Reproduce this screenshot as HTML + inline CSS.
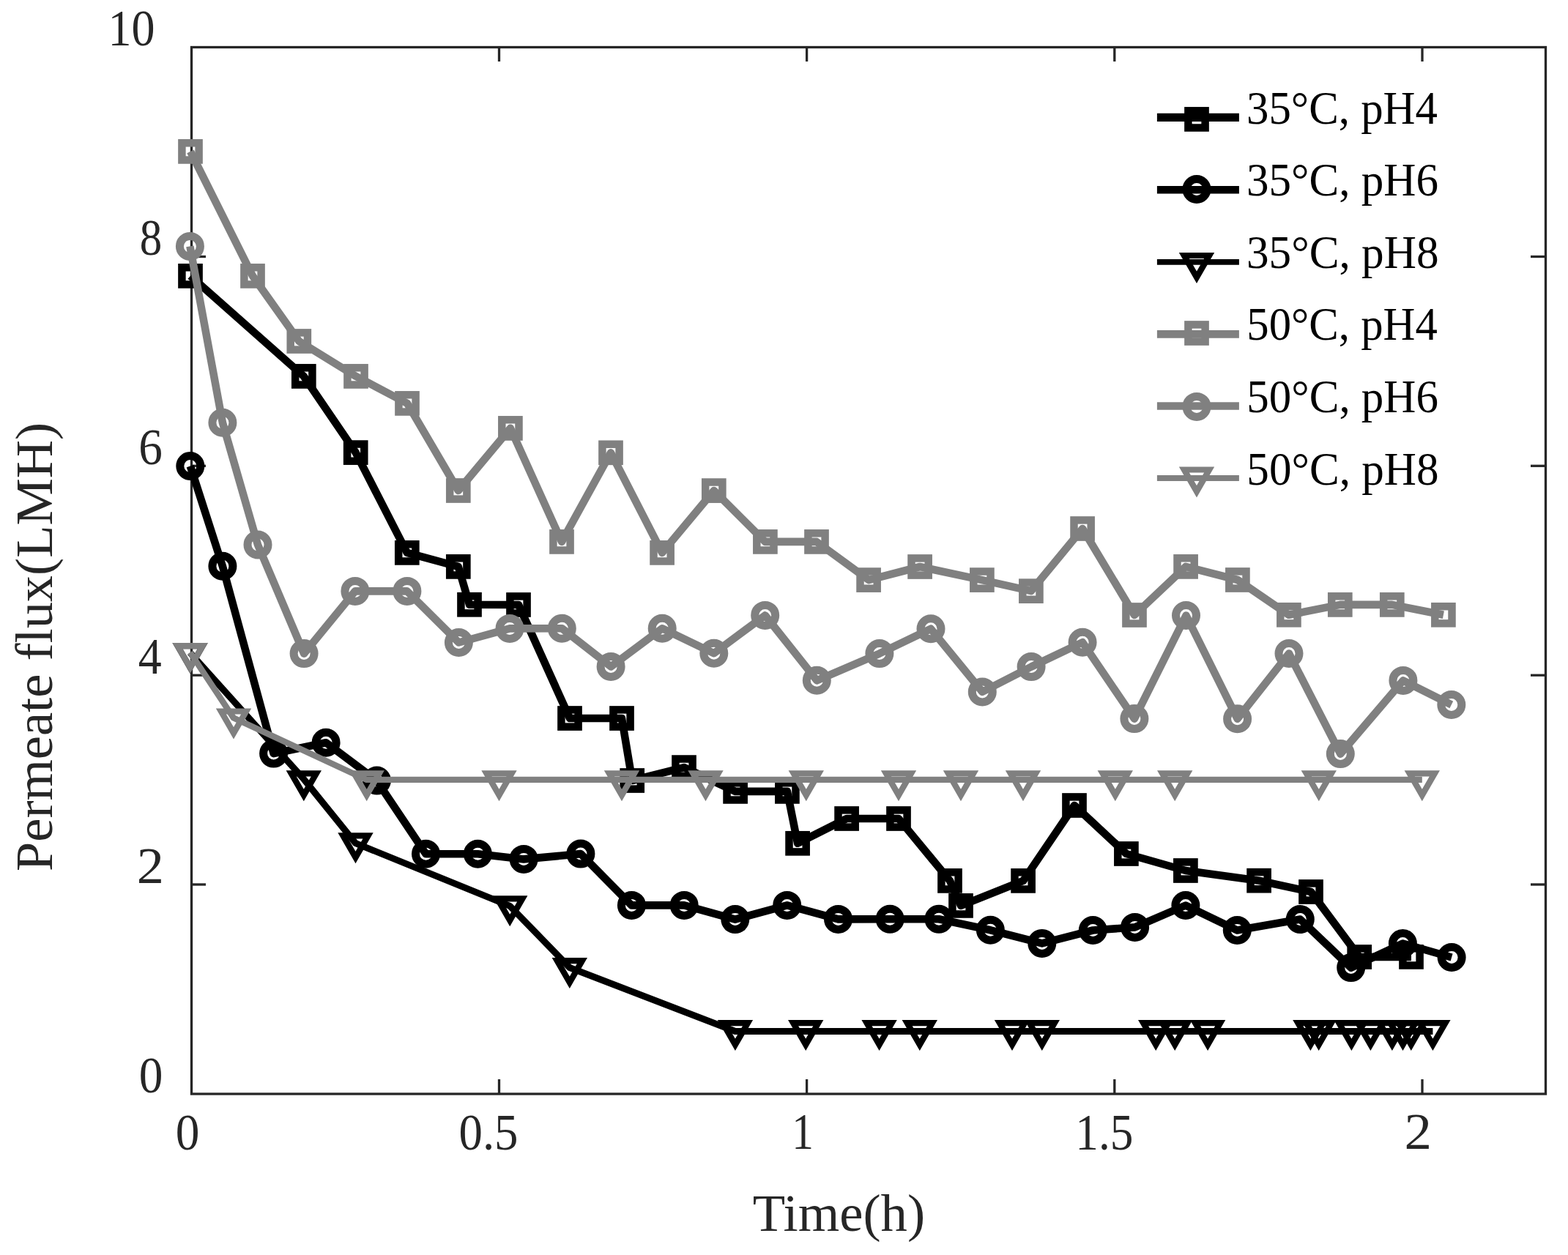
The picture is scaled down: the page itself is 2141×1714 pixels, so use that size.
<!DOCTYPE html>
<html lang="en">
<head>
<meta charset="utf-8">
<title>Permeate flux vs Time</title>
<style>
html,body{margin:0;padding:0;background:#fff;}
body{width:2141px;height:1714px;overflow:hidden;}
svg{display:block;}
text{font-family:'Liberation Serif', 'Times New Roman', serif;}
</style>
</head>
<body>
<svg width="2141" height="1714" viewBox="0 0 2141 1714">
<rect x="0" y="0" width="2141" height="1714" fill="#fff"/>
<g id="axes">
<rect x="261.5" y="64.5" width="1849" height="1429.5" fill="none" stroke="#262626" stroke-width="3.3"/>
<line x1="681.5" y1="64.5" x2="681.5" y2="84" stroke="#262626" stroke-width="3.3"/>
<line x1="681.5" y1="1494" x2="681.5" y2="1474" stroke="#262626" stroke-width="3.3"/>
<line x1="1101.6" y1="64.5" x2="1101.6" y2="84" stroke="#262626" stroke-width="3.3"/>
<line x1="1101.6" y1="1494" x2="1101.6" y2="1474" stroke="#262626" stroke-width="3.3"/>
<line x1="1521.8" y1="64.5" x2="1521.8" y2="84" stroke="#262626" stroke-width="3.3"/>
<line x1="1521.8" y1="1494" x2="1521.8" y2="1474" stroke="#262626" stroke-width="3.3"/>
<line x1="1942" y1="64.5" x2="1942" y2="84" stroke="#262626" stroke-width="3.3"/>
<line x1="1942" y1="1494" x2="1942" y2="1474" stroke="#262626" stroke-width="3.3"/>
<line x1="261.5" y1="350.5" x2="281" y2="350.5" stroke="#262626" stroke-width="3.3"/>
<line x1="2110.5" y1="350.5" x2="2090" y2="350.5" stroke="#262626" stroke-width="3.3"/>
<line x1="261.5" y1="636.3" x2="281" y2="636.3" stroke="#262626" stroke-width="3.3"/>
<line x1="2110.5" y1="636.3" x2="2090" y2="636.3" stroke="#262626" stroke-width="3.3"/>
<line x1="261.5" y1="922.2" x2="281" y2="922.2" stroke="#262626" stroke-width="3.3"/>
<line x1="2110.5" y1="922.2" x2="2090" y2="922.2" stroke="#262626" stroke-width="3.3"/>
<line x1="261.5" y1="1208" x2="281" y2="1208" stroke="#262626" stroke-width="3.3"/>
<line x1="2110.5" y1="1208" x2="2090" y2="1208" stroke="#262626" stroke-width="3.3"/>
</g>
<g id="data">
<polyline points="260,376.9 414.8,513.9 485.7,618.1 555.8,754.9 625.8,773.9 641,825.8 708,826 778,981 849,981 863.2,1066 934,1048.1 1004.1,1080.9 1074.9,1080.9 1089.1,1151.8 1156.1,1118 1227,1118 1297,1202.9 1312,1236.9 1397.1,1202.9 1467,1100 1537.9,1166 1618.9,1189 1719.1,1202.7 1790,1218 1856.2,1307 1927,1306.9" fill="none" stroke="#000000" stroke-width="10.6" stroke-linejoin="round" stroke-linecap="butt"/>
<rect x="248.4" y="365.3" width="23.2" height="23.2" fill="none" stroke="#000000" stroke-width="10.5"/>
<rect x="403.2" y="502.3" width="23.2" height="23.2" fill="none" stroke="#000000" stroke-width="10.5"/>
<rect x="474.1" y="606.5" width="23.2" height="23.2" fill="none" stroke="#000000" stroke-width="10.5"/>
<rect x="544.2" y="743.3" width="23.2" height="23.2" fill="none" stroke="#000000" stroke-width="10.5"/>
<rect x="614.2" y="762.3" width="23.2" height="23.2" fill="none" stroke="#000000" stroke-width="10.5"/>
<rect x="629.4" y="814.2" width="23.2" height="23.2" fill="none" stroke="#000000" stroke-width="10.5"/>
<rect x="696.4" y="814.4" width="23.2" height="23.2" fill="none" stroke="#000000" stroke-width="10.5"/>
<rect x="766.4" y="969.4" width="23.2" height="23.2" fill="none" stroke="#000000" stroke-width="10.5"/>
<rect x="837.4" y="969.4" width="23.2" height="23.2" fill="none" stroke="#000000" stroke-width="10.5"/>
<rect x="851.6" y="1054.4" width="23.2" height="23.2" fill="none" stroke="#000000" stroke-width="10.5"/>
<rect x="922.4" y="1036.5" width="23.2" height="23.2" fill="none" stroke="#000000" stroke-width="10.5"/>
<rect x="992.5" y="1069.3" width="23.2" height="23.2" fill="none" stroke="#000000" stroke-width="10.5"/>
<rect x="1063.3" y="1069.3" width="23.2" height="23.2" fill="none" stroke="#000000" stroke-width="10.5"/>
<rect x="1077.5" y="1140.2" width="23.2" height="23.2" fill="none" stroke="#000000" stroke-width="10.5"/>
<rect x="1144.5" y="1106.4" width="23.2" height="23.2" fill="none" stroke="#000000" stroke-width="10.5"/>
<rect x="1215.4" y="1106.4" width="23.2" height="23.2" fill="none" stroke="#000000" stroke-width="10.5"/>
<rect x="1285.4" y="1191.3" width="23.2" height="23.2" fill="none" stroke="#000000" stroke-width="10.5"/>
<rect x="1300.4" y="1225.3" width="23.2" height="23.2" fill="none" stroke="#000000" stroke-width="10.5"/>
<rect x="1385.5" y="1191.3" width="23.2" height="23.2" fill="none" stroke="#000000" stroke-width="10.5"/>
<rect x="1455.4" y="1088.4" width="23.2" height="23.2" fill="none" stroke="#000000" stroke-width="10.5"/>
<rect x="1526.3" y="1154.4" width="23.2" height="23.2" fill="none" stroke="#000000" stroke-width="10.5"/>
<rect x="1607.3" y="1177.4" width="23.2" height="23.2" fill="none" stroke="#000000" stroke-width="10.5"/>
<rect x="1707.5" y="1191.1" width="23.2" height="23.2" fill="none" stroke="#000000" stroke-width="10.5"/>
<rect x="1778.4" y="1206.4" width="23.2" height="23.2" fill="none" stroke="#000000" stroke-width="10.5"/>
<rect x="1844.6" y="1295.4" width="23.2" height="23.2" fill="none" stroke="#000000" stroke-width="10.5"/>
<rect x="1915.4" y="1295.3" width="23.2" height="23.2" fill="none" stroke="#000000" stroke-width="10.5"/>
<polyline points="259.8,636.5 303.9,773.3 373.6,1029.1 445.1,1014.2 514.4,1066.1 581.5,1166.2 652.4,1166.2 715.1,1173.4 792.9,1166.1 862.4,1236.4 934.2,1236.4 1003.8,1255.6 1074.7,1236.4 1144.5,1255.4 1215.2,1255.3 1282,1255.3 1352.4,1270.3 1422.8,1288.4 1492.3,1270.5 1549.6,1266.4 1618.9,1236.5 1689.3,1270.5 1775.3,1255.5 1844.7,1321.6 1915.4,1288.5 1982.1,1307.5" fill="none" stroke="#000000" stroke-width="10.6" stroke-linejoin="round" stroke-linecap="butt"/>
<circle cx="259.8" cy="636.5" r="14" fill="none" stroke="#000000" stroke-width="11"/>
<circle cx="303.9" cy="773.3" r="14" fill="none" stroke="#000000" stroke-width="11"/>
<circle cx="373.6" cy="1029.1" r="14" fill="none" stroke="#000000" stroke-width="11"/>
<circle cx="445.1" cy="1014.2" r="14" fill="none" stroke="#000000" stroke-width="11"/>
<circle cx="514.4" cy="1066.1" r="14" fill="none" stroke="#000000" stroke-width="11"/>
<circle cx="581.5" cy="1166.2" r="14" fill="none" stroke="#000000" stroke-width="11"/>
<circle cx="652.4" cy="1166.2" r="14" fill="none" stroke="#000000" stroke-width="11"/>
<circle cx="715.1" cy="1173.4" r="14" fill="none" stroke="#000000" stroke-width="11"/>
<circle cx="792.9" cy="1166.1" r="14" fill="none" stroke="#000000" stroke-width="11"/>
<circle cx="862.4" cy="1236.4" r="14" fill="none" stroke="#000000" stroke-width="11"/>
<circle cx="934.2" cy="1236.4" r="14" fill="none" stroke="#000000" stroke-width="11"/>
<circle cx="1003.8" cy="1255.6" r="14" fill="none" stroke="#000000" stroke-width="11"/>
<circle cx="1074.7" cy="1236.4" r="14" fill="none" stroke="#000000" stroke-width="11"/>
<circle cx="1144.5" cy="1255.4" r="14" fill="none" stroke="#000000" stroke-width="11"/>
<circle cx="1215.2" cy="1255.3" r="14" fill="none" stroke="#000000" stroke-width="11"/>
<circle cx="1282" cy="1255.3" r="14" fill="none" stroke="#000000" stroke-width="11"/>
<circle cx="1352.4" cy="1270.3" r="14" fill="none" stroke="#000000" stroke-width="11"/>
<circle cx="1422.8" cy="1288.4" r="14" fill="none" stroke="#000000" stroke-width="11"/>
<circle cx="1492.3" cy="1270.5" r="14" fill="none" stroke="#000000" stroke-width="11"/>
<circle cx="1549.6" cy="1266.4" r="14" fill="none" stroke="#000000" stroke-width="11"/>
<circle cx="1618.9" cy="1236.5" r="14" fill="none" stroke="#000000" stroke-width="11"/>
<circle cx="1689.3" cy="1270.5" r="14" fill="none" stroke="#000000" stroke-width="11"/>
<circle cx="1775.3" cy="1255.5" r="14" fill="none" stroke="#000000" stroke-width="11"/>
<circle cx="1844.7" cy="1321.6" r="14" fill="none" stroke="#000000" stroke-width="11"/>
<circle cx="1915.4" cy="1288.5" r="14" fill="none" stroke="#000000" stroke-width="11"/>
<circle cx="1982.1" cy="1307.5" r="14" fill="none" stroke="#000000" stroke-width="11"/>
<polyline points="259.6,891.5 414.8,1064.1 485.5,1151.6 696.2,1237.3 777.8,1321.5 1003.9,1408.5 1100.2,1408.5 1200.6,1408.5 1255.8,1408.5 1382,1408.5 1422.8,1408.5 1578.2,1408.5 1604.2,1408.5 1649.1,1408.5 1789.4,1408.5 1800.7,1408.5 1845.4,1408.5 1871.4,1408.5 1900.9,1408.5 1915.5,1408.5 1926.8,1408.5 1956.4,1408.5" fill="none" stroke="#000000" stroke-width="9" stroke-linejoin="round" stroke-linecap="butt"/>
<polygon points="242.5,882.2 276.7,882.2 259.6,911.9" fill="none" stroke="#000000" stroke-width="8.2" stroke-linejoin="miter"/>
<polygon points="397.7,1056.3 431.9,1056.3 414.8,1086" fill="none" stroke="#000000" stroke-width="8.2" stroke-linejoin="miter"/>
<polygon points="468.4,1141.3 502.6,1141.3 485.5,1171" fill="none" stroke="#000000" stroke-width="8.2" stroke-linejoin="miter"/>
<polygon points="679.1,1227.4 713.3,1227.4 696.2,1257.1" fill="none" stroke="#000000" stroke-width="8.2" stroke-linejoin="miter"/>
<polygon points="760.7,1312.1 794.9,1312.1 777.8,1341.8" fill="none" stroke="#000000" stroke-width="8.2" stroke-linejoin="miter"/>
<polygon points="986.8,1397.2 1021,1397.2 1003.9,1426.9" fill="none" stroke="#000000" stroke-width="8.2" stroke-linejoin="miter"/>
<polygon points="1083.1,1397.2 1117.3,1397.2 1100.2,1426.9" fill="none" stroke="#000000" stroke-width="8.2" stroke-linejoin="miter"/>
<polygon points="1183.5,1397.2 1217.7,1397.2 1200.6,1426.9" fill="none" stroke="#000000" stroke-width="8.2" stroke-linejoin="miter"/>
<polygon points="1238.7,1397.2 1272.9,1397.2 1255.8,1426.9" fill="none" stroke="#000000" stroke-width="8.2" stroke-linejoin="miter"/>
<polygon points="1364.9,1397.2 1399.1,1397.2 1382,1426.9" fill="none" stroke="#000000" stroke-width="8.2" stroke-linejoin="miter"/>
<polygon points="1405.7,1397.2 1439.9,1397.2 1422.8,1426.9" fill="none" stroke="#000000" stroke-width="8.2" stroke-linejoin="miter"/>
<polygon points="1561.1,1397.2 1595.3,1397.2 1578.2,1426.9" fill="none" stroke="#000000" stroke-width="8.2" stroke-linejoin="miter"/>
<polygon points="1587.1,1397.2 1621.3,1397.2 1604.2,1426.9" fill="none" stroke="#000000" stroke-width="8.2" stroke-linejoin="miter"/>
<polygon points="1632,1397.2 1666.2,1397.2 1649.1,1426.9" fill="none" stroke="#000000" stroke-width="8.2" stroke-linejoin="miter"/>
<polygon points="1772.3,1397.2 1806.5,1397.2 1789.4,1426.9" fill="none" stroke="#000000" stroke-width="8.2" stroke-linejoin="miter"/>
<polygon points="1783.6,1397.2 1817.8,1397.2 1800.7,1426.9" fill="none" stroke="#000000" stroke-width="8.2" stroke-linejoin="miter"/>
<polygon points="1828.3,1397.2 1862.5,1397.2 1845.4,1426.9" fill="none" stroke="#000000" stroke-width="8.2" stroke-linejoin="miter"/>
<polygon points="1854.3,1397.2 1888.5,1397.2 1871.4,1426.9" fill="none" stroke="#000000" stroke-width="8.2" stroke-linejoin="miter"/>
<polygon points="1883.8,1397.2 1918,1397.2 1900.9,1426.9" fill="none" stroke="#000000" stroke-width="8.2" stroke-linejoin="miter"/>
<polygon points="1898.4,1397.2 1932.6,1397.2 1915.5,1426.9" fill="none" stroke="#000000" stroke-width="8.2" stroke-linejoin="miter"/>
<polygon points="1909.7,1397.2 1943.9,1397.2 1926.8,1426.9" fill="none" stroke="#000000" stroke-width="8.2" stroke-linejoin="miter"/>
<polygon points="1939.3,1397.2 1973.5,1397.2 1956.4,1426.9" fill="none" stroke="#000000" stroke-width="8.2" stroke-linejoin="miter"/>
<polyline points="260,206.9 345,376.9 408.3,466 486,513.9 556,550.9 625.8,670 696.9,584.9 767,739.9 834,618.3 904.1,754.9 974.8,670.1 1044.9,739.9 1115,739.9 1186.1,792.1 1256.1,774 1340.9,792.1 1407.9,807.2 1478.1,722 1549,840 1619.1,773.9 1689.9,792 1759.9,839.8 1829.8,825.9 1900.8,825.9 1970.9,839.8" fill="none" stroke="#808080" stroke-width="10.6" stroke-linejoin="round" stroke-linecap="butt"/>
<rect x="248.4" y="195.3" width="23.2" height="23.2" fill="none" stroke="#808080" stroke-width="10.5"/>
<rect x="333.4" y="365.3" width="23.2" height="23.2" fill="none" stroke="#808080" stroke-width="10.5"/>
<rect x="396.7" y="454.4" width="23.2" height="23.2" fill="none" stroke="#808080" stroke-width="10.5"/>
<rect x="474.4" y="502.3" width="23.2" height="23.2" fill="none" stroke="#808080" stroke-width="10.5"/>
<rect x="544.4" y="539.3" width="23.2" height="23.2" fill="none" stroke="#808080" stroke-width="10.5"/>
<rect x="614.2" y="658.4" width="23.2" height="23.2" fill="none" stroke="#808080" stroke-width="10.5"/>
<rect x="685.3" y="573.3" width="23.2" height="23.2" fill="none" stroke="#808080" stroke-width="10.5"/>
<rect x="755.4" y="728.3" width="23.2" height="23.2" fill="none" stroke="#808080" stroke-width="10.5"/>
<rect x="822.4" y="606.7" width="23.2" height="23.2" fill="none" stroke="#808080" stroke-width="10.5"/>
<rect x="892.5" y="743.3" width="23.2" height="23.2" fill="none" stroke="#808080" stroke-width="10.5"/>
<rect x="963.2" y="658.5" width="23.2" height="23.2" fill="none" stroke="#808080" stroke-width="10.5"/>
<rect x="1033.3" y="728.3" width="23.2" height="23.2" fill="none" stroke="#808080" stroke-width="10.5"/>
<rect x="1103.4" y="728.3" width="23.2" height="23.2" fill="none" stroke="#808080" stroke-width="10.5"/>
<rect x="1174.5" y="780.5" width="23.2" height="23.2" fill="none" stroke="#808080" stroke-width="10.5"/>
<rect x="1244.5" y="762.4" width="23.2" height="23.2" fill="none" stroke="#808080" stroke-width="10.5"/>
<rect x="1329.3" y="780.5" width="23.2" height="23.2" fill="none" stroke="#808080" stroke-width="10.5"/>
<rect x="1396.3" y="795.6" width="23.2" height="23.2" fill="none" stroke="#808080" stroke-width="10.5"/>
<rect x="1466.5" y="710.4" width="23.2" height="23.2" fill="none" stroke="#808080" stroke-width="10.5"/>
<rect x="1537.4" y="828.4" width="23.2" height="23.2" fill="none" stroke="#808080" stroke-width="10.5"/>
<rect x="1607.5" y="762.3" width="23.2" height="23.2" fill="none" stroke="#808080" stroke-width="10.5"/>
<rect x="1678.3" y="780.4" width="23.2" height="23.2" fill="none" stroke="#808080" stroke-width="10.5"/>
<rect x="1748.3" y="828.2" width="23.2" height="23.2" fill="none" stroke="#808080" stroke-width="10.5"/>
<rect x="1818.2" y="814.3" width="23.2" height="23.2" fill="none" stroke="#808080" stroke-width="10.5"/>
<rect x="1889.2" y="814.3" width="23.2" height="23.2" fill="none" stroke="#808080" stroke-width="10.5"/>
<rect x="1959.3" y="828.2" width="23.2" height="23.2" fill="none" stroke="#808080" stroke-width="10.5"/>
<polyline points="259.4,336.4 303.9,577.2 352,744 415.1,892.6 484.9,807.4 555.9,807.4 626.4,877.5 696,858.4 767.3,858.3 834.1,910.4 904.2,858.3 974.8,892.2 1044.7,840.4 1115.3,929.3 1200.9,892.6 1271,858.8 1341.3,944.9 1408.1,910.6 1478.1,877.3 1548.9,981.6 1619.5,840.5 1689.6,981.7 1760,892.5 1830.3,1029.6 1915.9,929.4 1981.8,962.5" fill="none" stroke="#808080" stroke-width="10.6" stroke-linejoin="round" stroke-linecap="butt"/>
<circle cx="259.4" cy="336.4" r="14" fill="none" stroke="#808080" stroke-width="11"/>
<circle cx="303.9" cy="577.2" r="14" fill="none" stroke="#808080" stroke-width="11"/>
<circle cx="352" cy="744" r="14" fill="none" stroke="#808080" stroke-width="11"/>
<circle cx="415.1" cy="892.6" r="14" fill="none" stroke="#808080" stroke-width="11"/>
<circle cx="484.9" cy="807.4" r="14" fill="none" stroke="#808080" stroke-width="11"/>
<circle cx="555.9" cy="807.4" r="14" fill="none" stroke="#808080" stroke-width="11"/>
<circle cx="626.4" cy="877.5" r="14" fill="none" stroke="#808080" stroke-width="11"/>
<circle cx="696" cy="858.4" r="14" fill="none" stroke="#808080" stroke-width="11"/>
<circle cx="767.3" cy="858.3" r="14" fill="none" stroke="#808080" stroke-width="11"/>
<circle cx="834.1" cy="910.4" r="14" fill="none" stroke="#808080" stroke-width="11"/>
<circle cx="904.2" cy="858.3" r="14" fill="none" stroke="#808080" stroke-width="11"/>
<circle cx="974.8" cy="892.2" r="14" fill="none" stroke="#808080" stroke-width="11"/>
<circle cx="1044.7" cy="840.4" r="14" fill="none" stroke="#808080" stroke-width="11"/>
<circle cx="1115.3" cy="929.3" r="14" fill="none" stroke="#808080" stroke-width="11"/>
<circle cx="1200.9" cy="892.6" r="14" fill="none" stroke="#808080" stroke-width="11"/>
<circle cx="1271" cy="858.8" r="14" fill="none" stroke="#808080" stroke-width="11"/>
<circle cx="1341.3" cy="944.9" r="14" fill="none" stroke="#808080" stroke-width="11"/>
<circle cx="1408.1" cy="910.6" r="14" fill="none" stroke="#808080" stroke-width="11"/>
<circle cx="1478.1" cy="877.3" r="14" fill="none" stroke="#808080" stroke-width="11"/>
<circle cx="1548.9" cy="981.6" r="14" fill="none" stroke="#808080" stroke-width="11"/>
<circle cx="1619.5" cy="840.5" r="14" fill="none" stroke="#808080" stroke-width="11"/>
<circle cx="1689.6" cy="981.7" r="14" fill="none" stroke="#808080" stroke-width="11"/>
<circle cx="1760" cy="892.5" r="14" fill="none" stroke="#808080" stroke-width="11"/>
<circle cx="1830.3" cy="1029.6" r="14" fill="none" stroke="#808080" stroke-width="11"/>
<circle cx="1915.9" cy="929.4" r="14" fill="none" stroke="#808080" stroke-width="11"/>
<circle cx="1981.8" cy="962.5" r="14" fill="none" stroke="#808080" stroke-width="11"/>
<polyline points="259.6,891 319,980.6 500.7,1064.9 681.5,1064.9 849,1064.9 963.5,1064.9 1100.8,1064.9 1227,1064.9 1312,1064.9 1397,1064.9 1522.8,1064.9 1604.2,1064.9 1800.8,1064.9 1941.8,1064.9" fill="none" stroke="#808080" stroke-width="8.3" stroke-linejoin="round" stroke-linecap="butt"/>
<polygon points="242.5,882.2 276.7,882.2 259.6,911.9" fill="none" stroke="#808080" stroke-width="8.2" stroke-linejoin="miter"/>
<polygon points="301.9,971.5 336.1,971.5 319,1001.2" fill="none" stroke="#808080" stroke-width="8.2" stroke-linejoin="miter"/>
<polygon points="483.6,1056.3 517.8,1056.3 500.7,1086" fill="none" stroke="#808080" stroke-width="8.2" stroke-linejoin="miter"/>
<polygon points="664.4,1056.3 698.6,1056.3 681.5,1086" fill="none" stroke="#808080" stroke-width="8.2" stroke-linejoin="miter"/>
<polygon points="831.9,1056.3 866.1,1056.3 849,1086" fill="none" stroke="#808080" stroke-width="8.2" stroke-linejoin="miter"/>
<polygon points="946.4,1056.3 980.6,1056.3 963.5,1086" fill="none" stroke="#808080" stroke-width="8.2" stroke-linejoin="miter"/>
<polygon points="1083.7,1056.3 1117.9,1056.3 1100.8,1086" fill="none" stroke="#808080" stroke-width="8.2" stroke-linejoin="miter"/>
<polygon points="1209.9,1056.3 1244.1,1056.3 1227,1086" fill="none" stroke="#808080" stroke-width="8.2" stroke-linejoin="miter"/>
<polygon points="1294.9,1056.3 1329.1,1056.3 1312,1086" fill="none" stroke="#808080" stroke-width="8.2" stroke-linejoin="miter"/>
<polygon points="1379.9,1056.3 1414.1,1056.3 1397,1086" fill="none" stroke="#808080" stroke-width="8.2" stroke-linejoin="miter"/>
<polygon points="1505.7,1056.3 1539.9,1056.3 1522.8,1086" fill="none" stroke="#808080" stroke-width="8.2" stroke-linejoin="miter"/>
<polygon points="1587.1,1056.3 1621.3,1056.3 1604.2,1086" fill="none" stroke="#808080" stroke-width="8.2" stroke-linejoin="miter"/>
<polygon points="1783.7,1056.3 1817.9,1056.3 1800.8,1086" fill="none" stroke="#808080" stroke-width="8.2" stroke-linejoin="miter"/>
<polygon points="1924.7,1056.3 1958.9,1056.3 1941.8,1086" fill="none" stroke="#808080" stroke-width="8.2" stroke-linejoin="miter"/>
</g>
<g id="labels">
<text transform="translate(147.40,62.15) scale(0.9190,1)" font-size="69.70" fill="#262626">10</text>
<text transform="translate(190.71,348.20) scale(0.8734,1)" font-size="69.78" fill="#262626">8</text>
<text transform="translate(189.23,634.30) scale(0.9299,1)" font-size="70.19" fill="#262626">6</text>
<text transform="translate(188.87,919.80) scale(0.9165,1)" font-size="69.81" fill="#262626">4</text>
<text transform="translate(186.80,1205.85) scale(1.0747,1)" font-size="69.21" fill="#262626">2</text>
<text transform="translate(189.65,1492.30) scale(0.9374,1)" font-size="69.78" fill="#262626">0</text>
<text transform="translate(239.65,1570.15) scale(0.9374,1)" font-size="69.78" fill="#262626">0</text>
<text transform="translate(626.47,1569.86) scale(0.9378,1)" font-size="69.12" fill="#262626">0.5</text>
<text transform="translate(1081.30,1568.90) scale(0.8500,1)" font-size="69.85" fill="#262626">1</text>
<text transform="translate(1468.37,1569.86) scale(0.9084,1)" font-size="69.63" fill="#262626">1.5</text>
<text transform="translate(1917.62,1568.90) scale(1.0778,1)" font-size="69.58" fill="#262626">2</text>
<text transform="translate(1027.63,1680.58) scale(1.0146,1)" font-size="71.63" fill="#262626">Time(h)</text>
<text transform="translate(70.83,1189.97) rotate(-90) scale(1.0213,1)" font-size="70.90" fill="#262626">Permeate flux(LMH)</text>
</g>
<g id="legend">
<line x1="1579.9" y1="160.4" x2="1691.9" y2="160.4" stroke="#000000" stroke-width="11.1"/>
<rect x="1622.4" y="151.3" width="23.2" height="23.2" fill="none" stroke="#000000" stroke-width="10.5"/>
<text transform="translate(1702.01,168.61) scale(0.9656,1)" font-size="63.02" fill="#000">35°C, pH4</text>
<line x1="1579.9" y1="259.2" x2="1691.9" y2="259.2" stroke="#000000" stroke-width="10.6"/>
<circle cx="1634" cy="258.5" r="14" fill="none" stroke="#000000" stroke-width="11"/>
<text transform="translate(1702.00,267.21) scale(0.9692,1)" font-size="63.02" fill="#000">35°C, pH6</text>
<line x1="1579.9" y1="357.9" x2="1691.9" y2="357.9" stroke="#000000" stroke-width="7.6"/>
<polygon points="1616.9,349 1651.1,349 1634,378.7" fill="none" stroke="#000000" stroke-width="8.2" stroke-linejoin="miter"/>
<text transform="translate(1701.99,365.81) scale(0.9715,1)" font-size="63.02" fill="#000">35°C, pH8</text>
<line x1="1579.9" y1="456.3" x2="1691.9" y2="456.3" stroke="#808080" stroke-width="10.7"/>
<rect x="1622.4" y="443.4" width="23.2" height="23.2" fill="none" stroke="#808080" stroke-width="10.5"/>
<text transform="translate(1702.36,464.41) scale(0.9636,1)" font-size="63.02" fill="#000">50°C, pH4</text>
<line x1="1579.9" y1="554.5" x2="1691.9" y2="554.5" stroke="#808080" stroke-width="10.7"/>
<circle cx="1634" cy="555.4" r="14" fill="none" stroke="#808080" stroke-width="11"/>
<text transform="translate(1702.34,563.01) scale(0.9679,1)" font-size="63.02" fill="#000">50°C, pH6</text>
<line x1="1579.9" y1="653" x2="1691.9" y2="653" stroke="#808080" stroke-width="7.8"/>
<polygon points="1616.9,641.5 1651.1,641.5 1634,671.2" fill="none" stroke="#808080" stroke-width="8.2" stroke-linejoin="miter"/>
<text transform="translate(1702.33,661.61) scale(0.9702,1)" font-size="63.02" fill="#000">50°C, pH8</text>
</g>
</svg>
</body>
</html>
